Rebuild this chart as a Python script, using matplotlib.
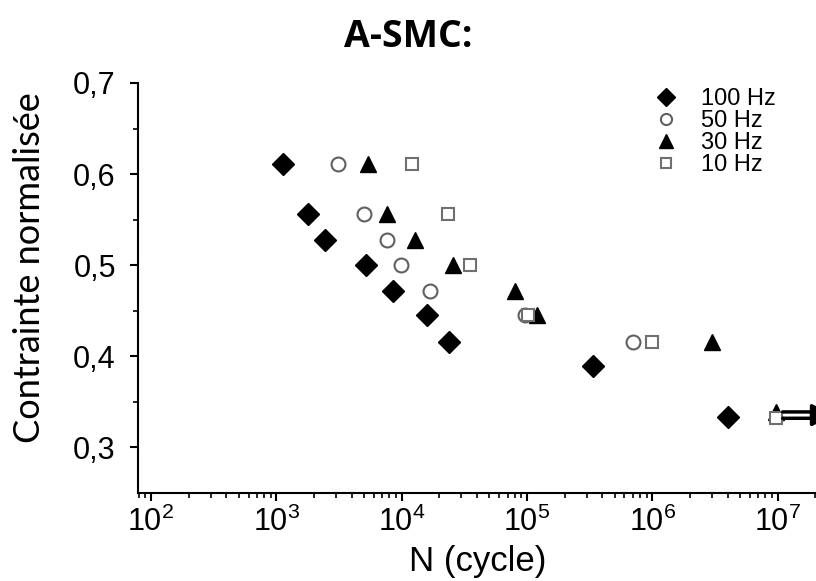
import matplotlib
matplotlib.use("Agg")
import matplotlib.pyplot as plt
from matplotlib.ticker import FixedLocator, LogLocator, NullFormatter, FuncFormatter

# Data (cycles to failure, normalised stress)
n_100 = [1.14e3, 1.8e3, 2.46e3, 5.15e3, 8.5e3, 1.6e4, 2.4e4, 3.37e5, 4.05e6]
s_100 = [0.611, 0.556, 0.528, 0.500, 0.472, 0.445, 0.416, 0.389, 0.333]

n_50 = [3.08e3, 4.97e3, 7.6e3, 9.8e3, 1.67e4, 9.6e4, 7.05e5]
s_50 = [0.611, 0.556, 0.528, 0.500, 0.472, 0.445, 0.416]

n_30 = [5.4e3, 7.6e3, 1.27e4, 2.56e4, 8.0e4, 1.2e5, 3.0e6, 9.8e6]
s_30 = [0.611, 0.556, 0.528, 0.500, 0.472, 0.445, 0.416, 0.339]

n_10 = [1.2e4, 2.33e4, 3.5e4, 1.02e5, 1.0e6, 9.8e6]
s_10 = [0.611, 0.556, 0.500, 0.445, 0.416, 0.332]

runout_n = [1.1e7, 1.1e7]
runout_s = [0.339, 0.332]

labels = ["100 Hz", "50 Hz", "30 Hz", "10 Hz"]
y_ticks = [0.3, 0.4, 0.5, 0.6, 0.7]
x_ticks = [1e2, 1e3, 1e4, 1e5, 1e6, 1e7]

fig = plt.figure(figsize=(8.16, 5.81), dpi=100)
ax = fig.add_axes([138/816, 88/581, 1 - 138/816 + 0.002, (493 - 83)/581])

ax.set_xscale("log")
ax.set_xlim(10**1.896, 10**7.32)
ax.set_ylim(0.25, 0.70)

ax.plot(n_100, s_100, linestyle="none", marker="D", markersize=11,
        color="black", label=labels[0])
ax.plot(n_50, s_50, linestyle="none", marker="o", markersize=10,
        markerfacecolor="white", markeredgecolor="#606060", markeredgewidth=1.5,
        label=labels[1])
ax.plot(n_30, s_30, linestyle="none", marker="^", markersize=12,
        color="black", label=labels[2])
ax.plot(n_10, s_10, linestyle="none", marker="s", markersize=9,
        markerfacecolor="white", markeredgecolor="#707070", markeredgewidth=1.5,
        label=labels[3])

for xn, ys in zip(runout_n, runout_s):
    ax.annotate("", xy=(10**7.40, ys), xytext=(xn, ys),
                xycoords="data", annotation_clip=False,
                arrowprops=dict(arrowstyle="-|>", color="black", lw=2.5,
                                mutation_scale=22, shrinkA=0, shrinkB=0))

for s in ["top", "right"]:
    ax.spines[s].set_visible(False)
for s in ["left", "bottom"]:
    ax.spines[s].set_linewidth(1.5)

ax.yaxis.set_major_locator(FixedLocator(y_ticks))
ax.yaxis.set_minor_locator(FixedLocator([0.35, 0.45, 0.55, 0.65]))
ax.yaxis.set_major_formatter(FuncFormatter(lambda v, p: f"{v:.1f}".replace(".", ",")))
ax.xaxis.set_major_locator(FixedLocator(x_ticks))
ax.xaxis.set_minor_locator(LogLocator(base=10, subs=range(2, 10), numticks=20))
ax.xaxis.set_minor_formatter(NullFormatter())

ax.tick_params(axis="both", which="major", direction="out", length=6, width=1.5, pad=4)
ax.tick_params(axis="x", which="major", labelsize=22)
ax.tick_params(axis="y", which="major", labelsize=22, pad=10)
ax.tick_params(axis="both", which="minor", direction="out", length=3.5, width=1.2)
for lab in ax.get_xticklabels() + ax.get_yticklabels():
    lab.set_fontfamily("Liberation Sans")

ax.set_xlabel("N (cycle)", fontsize=25, family="Liberation Sans", labelpad=5)
ax.set_ylabel("Contrainte normalisée", fontsize=26, family="Lato")
ax.yaxis.set_label_coords(-0.135, 0.55)

fig.text(0.5, 0.937, "A-SMC:", ha="center", va="center", fontsize=27,
         fontweight="bold", family="Open Sans")

leg = ax.legend(loc="upper right", bbox_to_anchor=(0.97, 1.04), frameon=False,
                prop={"family": "Liberation Sans", "size": 17},
                handletextpad=1.0, labelspacing=0.0, handlelength=1.0,
                markerscale=0.8)

fig.savefig("out.png", dpi=100)
